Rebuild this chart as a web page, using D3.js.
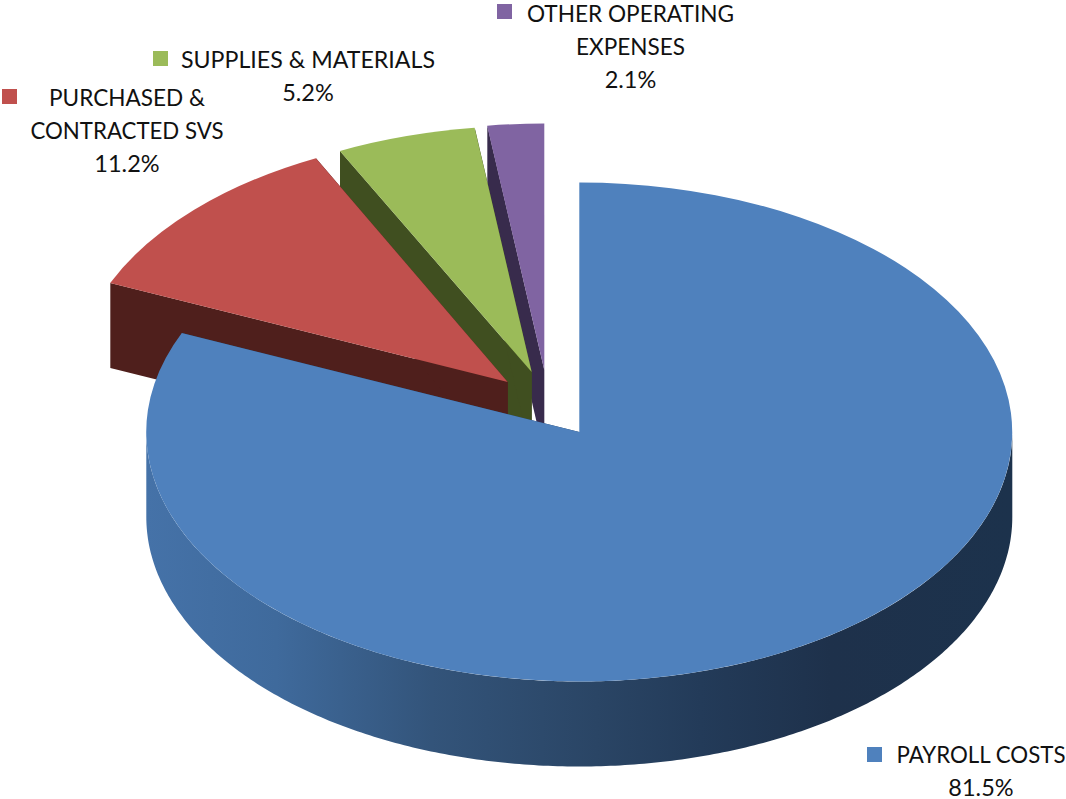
<!DOCTYPE html>
<html>
<head>
<meta charset="utf-8">
<title>Operating expenditure by category</title>
<script src="https://cdn.jsdelivr.net/npm/d3@7/dist/d3.min.js"></script>
<style>
  html, body { margin: 0; padding: 0; background: #fff; }
  svg { display: block; }
  text { font-family: Lato, "Open Sans", sans-serif; fill: #111; }
</style>
</head>
<body>
<svg id="chart" width="1066" height="799"></svg>
<script>
// Spending categories and their share of the total, in percent.
const categories = ["PAYROLL COSTS", "PURCHASED & CONTRACTED SVS", "SUPPLIES & MATERIALS", "OTHER OPERATING EXPENSES"];
const shares = [81.5, 11.2, 5.2, 2.1];

// Line breaks used by each category label.
const labelLines = [
  ["PAYROLL COSTS"],
  ["PURCHASED &", "CONTRACTED SVS"],
  ["SUPPLIES & MATERIALS"],
  ["OTHER OPERATING", "EXPENSES"]
];
// Set width of those lines, so the wide face stays compact.
const labelWidths = [[169], [156, 193], [254], [207, 109]];

// Slice appearance.
const topColors = ["#4f81bd", "#c0504d", "#9bbb59", "#8064a2"];
const wallColors = ["#1f3a5b", "#4f1f1c", "#404f20", "#382b4c"];

// Projection of the tilted disc.
const cx = 579.3, cy = 432, rx = 433, ry = 249.5, depth = 85;

// Explosion offset of each slice in pixels, and the foreshortening of the far slices.
const offsets = [[0, 0], [-71.6, -50], [-47.6, -60], [-35, -62]];
const foreshorten = [1, 1, 0.988, 0.988];

// Label placement: marker corner, text centre and first baseline.
const labelLayout = [
  { box: [867, 747], x: 981, y: 763 },
  { box: [2, 89], x: 127, y: 106 },
  { box: [153, 51], x: 308, y: 68 },
  { box: [497, 4], x: 630.5, y: 22 }
];
const lineStep = 33, markerSize = 15;

const svg = d3.select("#chart");

// The side wall darkens from left to right across the disc.
const grad = svg.append("defs").append("linearGradient")
  .attr("id", "rimShade").attr("gradientUnits", "userSpaceOnUse")
  .attr("x1", cx - rx).attr("x2", cx + rx).attr("y1", 0).attr("y2", 0);
[[0, "#4572a8"], [0.15, "#3f6a9c"], [0.33, "#33547a"], [0.52, "#2a4565"], [0.64, "#233b59"], [0.79, "#1e314b"], [1, "#1c324c"]]
  .forEach(([o, c]) => grad.append("stop").attr("offset", o).attr("stop-color", c));

const pie = d3.pie().sort(null).startAngle(0).endAngle(2 * Math.PI).value(d => d);
const slices = pie(shares).map((s, i) => ({ ...s, i }));

const line = d3.line();
const unitArc = d3.arc().innerRadius(0).outerRadius(1);
const drop = p => [p[0], p[1] + depth];

function arcSamples(a0, a1) {
  const n = Math.max(2, Math.ceil((a1 - a0) * 90));
  return d3.range(n + 1).map(k => a0 + (a1 - a0) * k / n);
}

// Painted back to front so nearer slices cover farther ones.
slices.slice().reverse().forEach(s => {
  const [dx, dy] = offsets[s.i];
  const sliceRy = ry * foreshorten[s.i];

  // Unit-circle scales onto this slice's screen ellipse.
  const sx = d3.scaleLinear().domain([-1, 1]).range([cx - rx, cx + rx]);
  const sy = d3.scaleLinear().domain([-1, 1]).range([cy + sliceRy, cy - sliceRy]);
  const rim = a => [sx(Math.sin(a)), sy(Math.cos(a))];
  const centre = [sx(0), sy(0)];

  const g = svg.append("g").attr("transform", `translate(${dx},${dy})`);
  const wallFill = s.i === 0 ? "url(#rimShade)" : wallColors[s.i];

  // Straight cut walls, both ends of the slice.
  [s.startAngle, s.endAngle].forEach(a => {
    const p = rim(a);
    g.append("path")
      .attr("d", line([centre, p, drop(p), drop(centre)]) + "Z")
      .attr("fill", wallColors[s.i]);
  });

  // Curved outer wall: only the half of the rim that faces the viewer.
  const a0 = Math.max(s.startAngle, Math.PI / 2);
  const a1 = Math.min(s.endAngle, 3 * Math.PI / 2);
  if (a1 > a0) {
    const pts = arcSamples(a0, a1).map(rim);
    g.append("path")
      .attr("d", line(pts.concat(pts.map(drop).reverse())) + "Z")
      .attr("fill", wallFill);
  }

  // Top face: a unit arc scaled onto the ellipse.
  g.append("path")
    .attr("transform", `translate(${cx},${cy}) scale(${rx},${sliceRy})`)
    .attr("d", unitArc(s))
    .attr("fill", topColors[s.i]);
});

// Category labels with their colour markers and percentages.
labelLayout.forEach((l, i) => {
  svg.append("rect")
    .attr("x", l.box[0]).attr("y", l.box[1])
    .attr("width", markerSize).attr("height", markerSize)
    .attr("fill", topColors[i]);
  labelLines[i].forEach((t, k) => {
    svg.append("text")
      .attr("x", l.x).attr("y", l.y + k * lineStep)
      .attr("text-anchor", "middle")
      .attr("font-size", 23.5)
      .attr("textLength", labelWidths[i][k])
      .attr("lengthAdjust", "spacingAndGlyphs")
      .text(t);
  });
  svg.append("text")
    .attr("x", l.x).attr("y", l.y + labelLines[i].length * lineStep)
    .attr("text-anchor", "middle")
    .attr("font-size", 23.5)
    .text(d3.format(".1f")(shares[i]) + "%");
});
</script>
</body>
</html>
